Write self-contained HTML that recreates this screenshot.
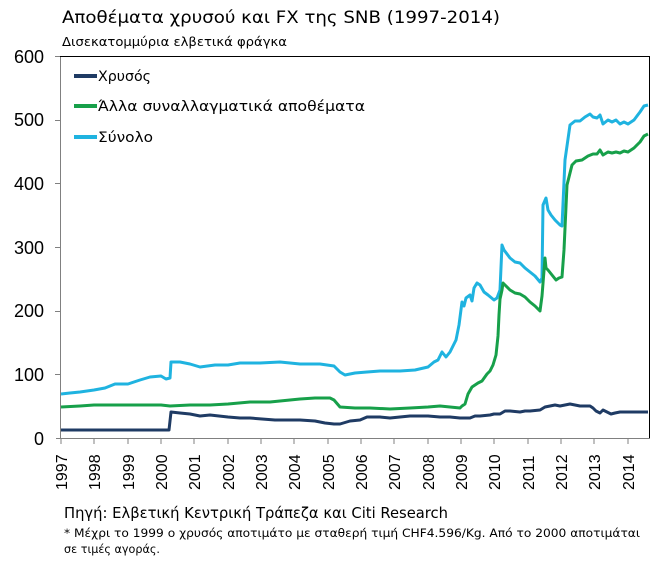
<!DOCTYPE html>
<html><head><meta charset="utf-8"><style>
body{margin:0;background:#fff;width:670px;height:558px;overflow:hidden;font-family:"Liberation Sans",sans-serif}
</style></head><body>
<svg width="670" height="558" xmlns="http://www.w3.org/2000/svg" font-family="Liberation Sans, DejaVu Sans, sans-serif">
<g font-family="DejaVu Sans, sans-serif">
<text x="62" y="23" font-size="17" fill="#000" textLength="438" lengthAdjust="spacingAndGlyphs">Αποθέματα χρυσού και FX της SNB (1997-2014)</text>
<text x="62" y="46" font-size="12" fill="#000" textLength="225" lengthAdjust="spacingAndGlyphs">Δισεκατομμύρια ελβετικά φράγκα</text>
</g>
<g font-size="18" fill="#000" text-anchor="end">
<text x="44" y="63">600</text><text x="44" y="126">500</text><text x="44" y="190">400</text>
<text x="44" y="254">300</text><text x="44" y="317">200</text><text x="44" y="381">100</text><text x="44" y="445">0</text>
</g>
<g stroke="#808080" stroke-width="1">
<line x1="60.5" y1="56" x2="60.5" y2="438"/><line x1="56" y1="438.5" x2="650" y2="438.5"/>
<line x1="55" y1="56.5" x2="60" y2="56.5"/><line x1="55" y1="120.5" x2="60" y2="120.5"/><line x1="55" y1="183.5" x2="60" y2="183.5"/><line x1="55" y1="247.5" x2="60" y2="247.5"/><line x1="55" y1="311.5" x2="60" y2="311.5"/><line x1="55" y1="374.5" x2="60" y2="374.5"/>
</g>
<line x1="60" y1="56.5" x2="650" y2="56.5" stroke="#000"/>
<line x1="649.5" y1="56" x2="649.5" y2="438" stroke="#000"/>
<g stroke="#808080"><path d="M61 438v6M94 438v6M128 438v6M161 438v6M194 438v6M228 438v6M261 438v6M294 438v6M328 438v6M361 438v6M394 438v6M428 438v6M461 438v6M494 438v6M528 438v6M561 438v6M594 438v6M628 438v6"/></g>
<g font-size="16" fill="#000">
<text transform="translate(67,490) rotate(-90)">1997</text><text transform="translate(100,490) rotate(-90)">1998</text><text transform="translate(134,490) rotate(-90)">1999</text><text transform="translate(167,490) rotate(-90)">2000</text><text transform="translate(200,490) rotate(-90)">2001</text><text transform="translate(234,490) rotate(-90)">2002</text><text transform="translate(267,490) rotate(-90)">2003</text><text transform="translate(300,490) rotate(-90)">2004</text><text transform="translate(334,490) rotate(-90)">2005</text><text transform="translate(367,490) rotate(-90)">2006</text><text transform="translate(400,490) rotate(-90)">2007</text><text transform="translate(434,490) rotate(-90)">2008</text><text transform="translate(467,490) rotate(-90)">2009</text><text transform="translate(500,490) rotate(-90)">2010</text><text transform="translate(534,490) rotate(-90)">2011</text><text transform="translate(567,490) rotate(-90)">2012</text><text transform="translate(600,490) rotate(-90)">2013</text><text transform="translate(634,490) rotate(-90)">2014</text>
</g>
<g fill="none" stroke-width="3" stroke-linejoin="round">
<polyline stroke="#1fb3e0" points="61,394 70,393 80,392 94,390 105,388 115,384 128,384 140,380 150,377 161,376 166,379 170,378 171,362 180,362 190,364 200,367 215,365 228,365 240,363 260,363 280,362 300,364 320,364 334,366 340,372 345,375 355,373 367,372 380,371 400,371 415,370 428,367 434,362 438,360 442,352 446,357 450,352 456,340 459,325 462,302 464,306 466,298 470,295 472,301 474,288 477,283 480,285 484,292 488,295 494,300 497,298 500,290 502,245 504,250 510,258 515,262 520,263 525,268 530,272 535,276 540,282 542,278 543,205 546,198 548,210 551,215 555,220 560,225 562,226 565,160 570,125 575,121 580,121 585,117 590,114 593,117 597,118 600,115 603,124 608,120 612,122 616,120 620,124 624,122 628,124 634,120 640,112 644,106 648,105"/>
<polyline stroke="#17a04a" points="61,407 80,406 94,405 110,405 128,405 150,405 161,405 170,406 190,405 210,405 228,404 250,402 270,402 290,400 300,399 315,398 330,398 334,400 340,407 355,408 370,408 390,409 410,408 428,407 440,406 450,407 460,408 462,406 465,404 468,394 472,387 478,383 482,381 487,374 490,371 493,365 496,355 498,336 499,315 500,299 502,290 503,283 505,285 510,290 515,293 520,294 525,297 530,302 535,306 540,311 542,296 545,258 546,268 548,270 552,275 556,280 559,278 562,277 564,250 567,185 572,165 576,161 582,160 588,156 593,154 597,154 600,150 603,155 608,152 612,153 616,152 620,153 624,151 628,152 634,148 640,142 644,136 648,134"/>
<polyline stroke="#1f3b64" points="61,430 100,430 130,430 160,430 169,430 171,412 180,413 190,414 200,416 210,415 228,417 240,418 250,418 262,419 275,420 288,420 300,420 315,421 325,423 334,424 340,424 350,421 360,420 367,417 380,417 390,418 400,417 410,416 420,416 428,416 440,417 450,417 460,418 470,418 475,416 480,416 490,415 494,414 500,414 505,411 510,411 520,412 525,411 530,411 540,410 545,407 550,406 555,405 560,406 565,405 570,404 575,405 580,406 585,406 590,406 593,408 596,411 600,413 603,410 607,412 611,414 615,413 620,412 628,412 634,412 648,412"/>
</g>
<g stroke-width="4"><line x1="74" y1="76" x2="97" y2="76" stroke="#1f3b64"/><line x1="74" y1="106" x2="97" y2="106" stroke="#17a04a"/><line x1="74" y1="137" x2="97" y2="137" stroke="#1fb3e0"/></g>
<g font-size="14" fill="#000" font-family="DejaVu Sans, sans-serif"><text x="98" y="81" textLength="53" lengthAdjust="spacingAndGlyphs">Χρυσός</text><text x="98" y="111" textLength="267" lengthAdjust="spacingAndGlyphs">Άλλα συναλλαγματικά αποθέματα</text><text x="98" y="142" textLength="55" lengthAdjust="spacingAndGlyphs">Σύνολο</text></g>
<g font-family="DejaVu Sans, sans-serif" fill="#000">
<text x="64" y="518" font-size="15" textLength="384" lengthAdjust="spacingAndGlyphs">Πηγή: Ελβετική Κεντρική Τράπεζα και Citi Research</text>
<text x="64" y="537" font-size="11.5" textLength="576" lengthAdjust="spacingAndGlyphs">* Μέχρι το 1999 ο χρυσός αποτιμάτο με σταθερή τιμή CHF4.596/Kg. Από το 2000 αποτιμάται</text>
<text x="64" y="553" font-size="11.5" textLength="96" lengthAdjust="spacingAndGlyphs">σε τιμές αγοράς.</text>
</g>
</svg>
</body></html>
